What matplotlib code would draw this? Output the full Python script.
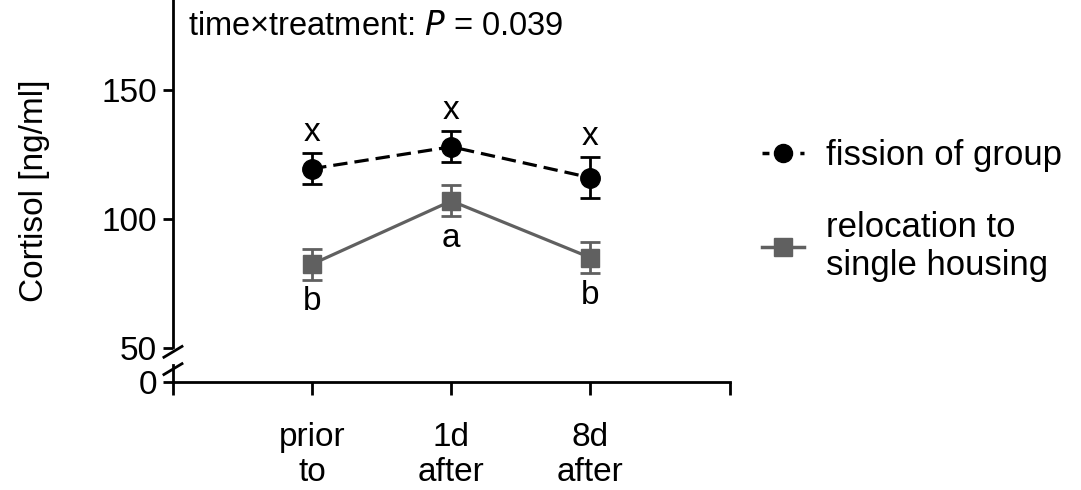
import matplotlib
matplotlib.use("Agg")
import matplotlib.pyplot as plt
from matplotlib.lines import Line2D

plt.rcParams['font.family'] = ['Liberation Sans', 'DejaVu Sans']

# data
timepoints = ["prior\nto", "1d\nafter", "8d\nafter"]
fission_mean = [119.5, 128.0, 116.0]
fission_err = [6.0, 6.0, 8.0]
reloc_mean = [82.5, 107.0, 85.0]
reloc_err = [6.0, 6.0, 6.0]
fission_letters = ["x", "x", "x"]
reloc_letters = ["b", "a", "b"]
ytick_vals = [50, 100, 150]

zero_pos = 36.8  # where "0" sits below the axis break
grey = "#606060"
fs = 24
dash = (0, (4.5, 2.2))

fig = plt.figure(figsize=(10.81, 4.9), dpi=100)
ax = fig.add_axes([0.160, 0.2204, 0.515, 0.7796])

xs = [1, 2, 3]
ax.errorbar(xs, fission_mean, yerr=fission_err, color="black", ls=dash,
            lw=2.3, marker="o", ms=14, capsize=7, capthick=2, elinewidth=2, zorder=3)
ax.errorbar(xs, reloc_mean, yerr=reloc_err, color=grey, ls="-",
            lw=2.3, marker="s", ms=13, capsize=7, capthick=2, elinewidth=2, zorder=3)

for x, m, e, t in zip(xs, fission_mean, fission_err, fission_letters):
    ax.text(x, m + e + 2, t, ha="center", va="bottom", fontsize=fs)
for x, m, e, t in zip(xs, reloc_mean, reloc_err, reloc_letters):
    ax.text(x, m - e - 2.5, t, ha="center", va="top", fontsize=fs)

ax.set_xlim(0, 4)
ax.set_ylim(zero_pos, 184.9)
ax.set_xticks([0] + xs + [4])
ax.set_xticklabels([""] + timepoints + [""], fontsize=fs, linespacing=1.18)
ax.set_yticks([zero_pos] + ytick_vals)
ax.set_yticklabels(["0"] + [str(v) for v in ytick_vals], fontsize=fs)
ax.tick_params(axis="both", width=2, length=7.5, direction="out", pad=4)
ax.tick_params(axis="x", length=9.5, pad=19)
ax.set_ylabel("Cortisol [ng/ml]", fontsize=fs, labelpad=37)

for s in ["top", "right"]:
    ax.spines[s].set_visible(False)
for s in ["left", "bottom"]:
    ax.spines[s].set_linewidth(2)
ax.spines["left"].set_bounds(50.5, 184.9)
ax.plot([0, 0], [zero_pos, 43.4], color="black", lw=2, clip_on=False, zorder=4)
# break marks
for yb in [48.5, 41.8]:
    ax.plot([-0.065, 0.065], [yb - 2.1, yb + 2.1], color="black", lw=2,
            clip_on=False, zorder=4)

ax.text(0.11, 180.5, "time\u00d7treatment: $\\mathit{P}$ = 0.039", fontsize=23.5,
        ha="left", va="top")

handles = [
    Line2D([], [], color="black", ls=(0.5, (2.5, 3.2)), lw=2.5, marker="o", ms=13),
    Line2D([], [], color=grey, ls="-", lw=2.5, marker="s", ms=13),
]
fig.legend(handles, ["fission of group", "relocation to\nsingle housing"],
           loc="upper left", bbox_to_anchor=(0.676, 0.78), frameon=False,
           fontsize=25, handlelength=1.2, handletextpad=0.65, labelspacing=1.12)

fig.savefig("out.png", dpi=100)
